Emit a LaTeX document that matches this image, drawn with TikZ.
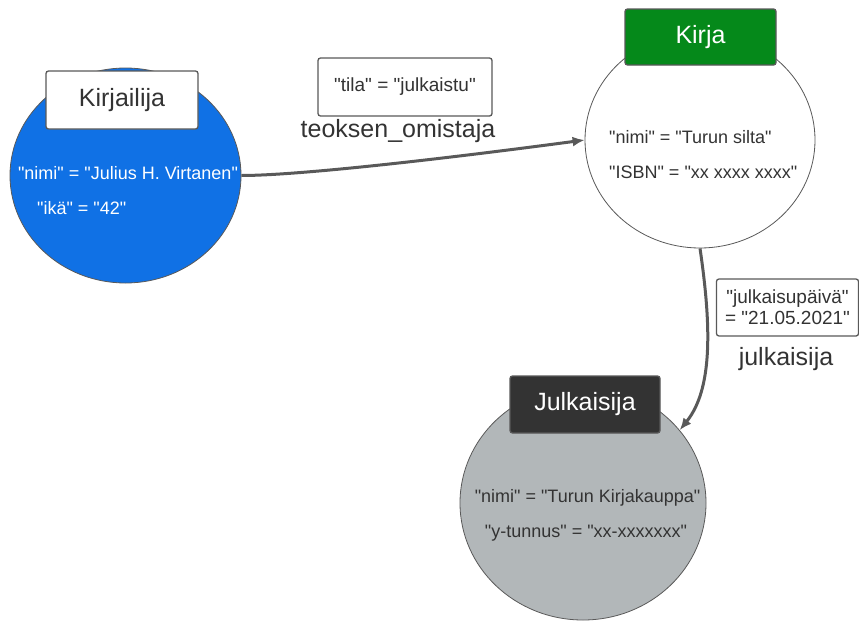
\documentclass[tikz,border=0pt]{standalone}
\usepackage{fontspec}
\setmainfont{Liberation Sans}[Ligatures=TeXOff]
\usetikzlibrary{shapes.geometric,arrows.meta}

\definecolor{entblue}{HTML}{1071E5}
\definecolor{entgreen}{HTML}{05891A}
\definecolor{entdark}{HTML}{333333}
\definecolor{entgray}{HTML}{B2B7B9}
\definecolor{txt}{HTML}{333333}
\definecolor{wire}{HTML}{595959}

\tikzset{
  entity/.style={ellipse, draw=wire, line width=0.8pt, inner sep=0pt},
  titlebox/.style={rectangle, rounded corners=2.5pt, draw=wire, line width=1.3pt,
    inner sep=0pt, font=\fontsize{25}{29}\selectfont},
  attr/.style={font=\fontsize{18}{21}\selectfont, inner sep=0pt},
  proplabel/.style={rectangle, rounded corners=2.5pt, draw=wire, line width=1.3pt,
    fill=white, inner sep=0pt, align=center, text=txt,
    font=\fontsize{19}{22}\selectfont},
  rellabel/.style={font=\fontsize{25}{29}\selectfont, text=txt, inner sep=0pt},
  relation/.style={draw=wire, line width=3pt, -{Latex[length=12pt,width=10pt]}}
}

\begin{document}
\begin{tikzpicture}[x=1pt, y=-1pt]
\useasboundingbox (0,0) rectangle (859,621);

% entities
\node[entity, fill=entblue, minimum width=231pt, minimum height=215pt] (kirjailija) at (125.5,175.5) {};
\node[entity, fill=white, minimum width=230pt, minimum height=216pt] (kirja) at (700,140) {};
\node[entity, fill=entgray, minimum width=246pt, minimum height=234pt] (julkaisija) at (583,503) {};

% entity titles
\node[titlebox, fill=white, text=txt, minimum width=152pt, minimum height=58pt] (tKirjailija) at (122,100) {Kirjailija};
\node[titlebox, fill=entgreen, text=white, minimum width=151pt, minimum height=56pt] (tKirja) at (700.5,37) {Kirja};
\node[titlebox, fill=entdark, text=white, minimum width=150pt, minimum height=57pt] (tJulkaisija) at (585,404.5) {Julkaisija};

% attributes
\node[attr, text=white] (a1) at (128,173) {"nimi" = "Julius H. Virtanen"};
\node[attr, text=white, anchor=west] (a2) at (37,208) {"ikä" = "42"};
\node[attr, text=txt, anchor=west] (b1) at (609,137) {"nimi" = "Turun silta"};
\node[attr, text=txt, anchor=west] (b2) at (609,172) {"ISBN" = "xx xxxx xxxx"};
\node[attr, text=txt] (c1) at (587.5,498) {"nimi" = "Turun Kirjakauppa"};
\node[attr, text=txt] (c2) at (586,533) {"y-tunnus" = "xx-xxxxxxx"};

% relations
\draw[relation] (kirjailija.east) .. controls (300,175.5) and (450,158) .. (kirja.west);
\draw[relation] (kirja.south) .. controls (712,330) and (712,390) .. (julkaisija.37);

% relation labels
\node[proplabel, minimum width=174pt, minimum height=58pt] (pTila) at (405,87) {"tila" = "julkaistu"};
\node[rellabel] (rOmistaja) at (398,131) {teoksen\_omistaja};
\node[proplabel, minimum width=142pt, minimum height=57pt] (pPaiva) at (787.5,307.5) {"julkaisupäivä"\\[-1pt]= "21.05.2021"};
\node[rellabel] (rJulkaisija) at (786,359) {julkaisija};
\end{tikzpicture}
\end{document}
